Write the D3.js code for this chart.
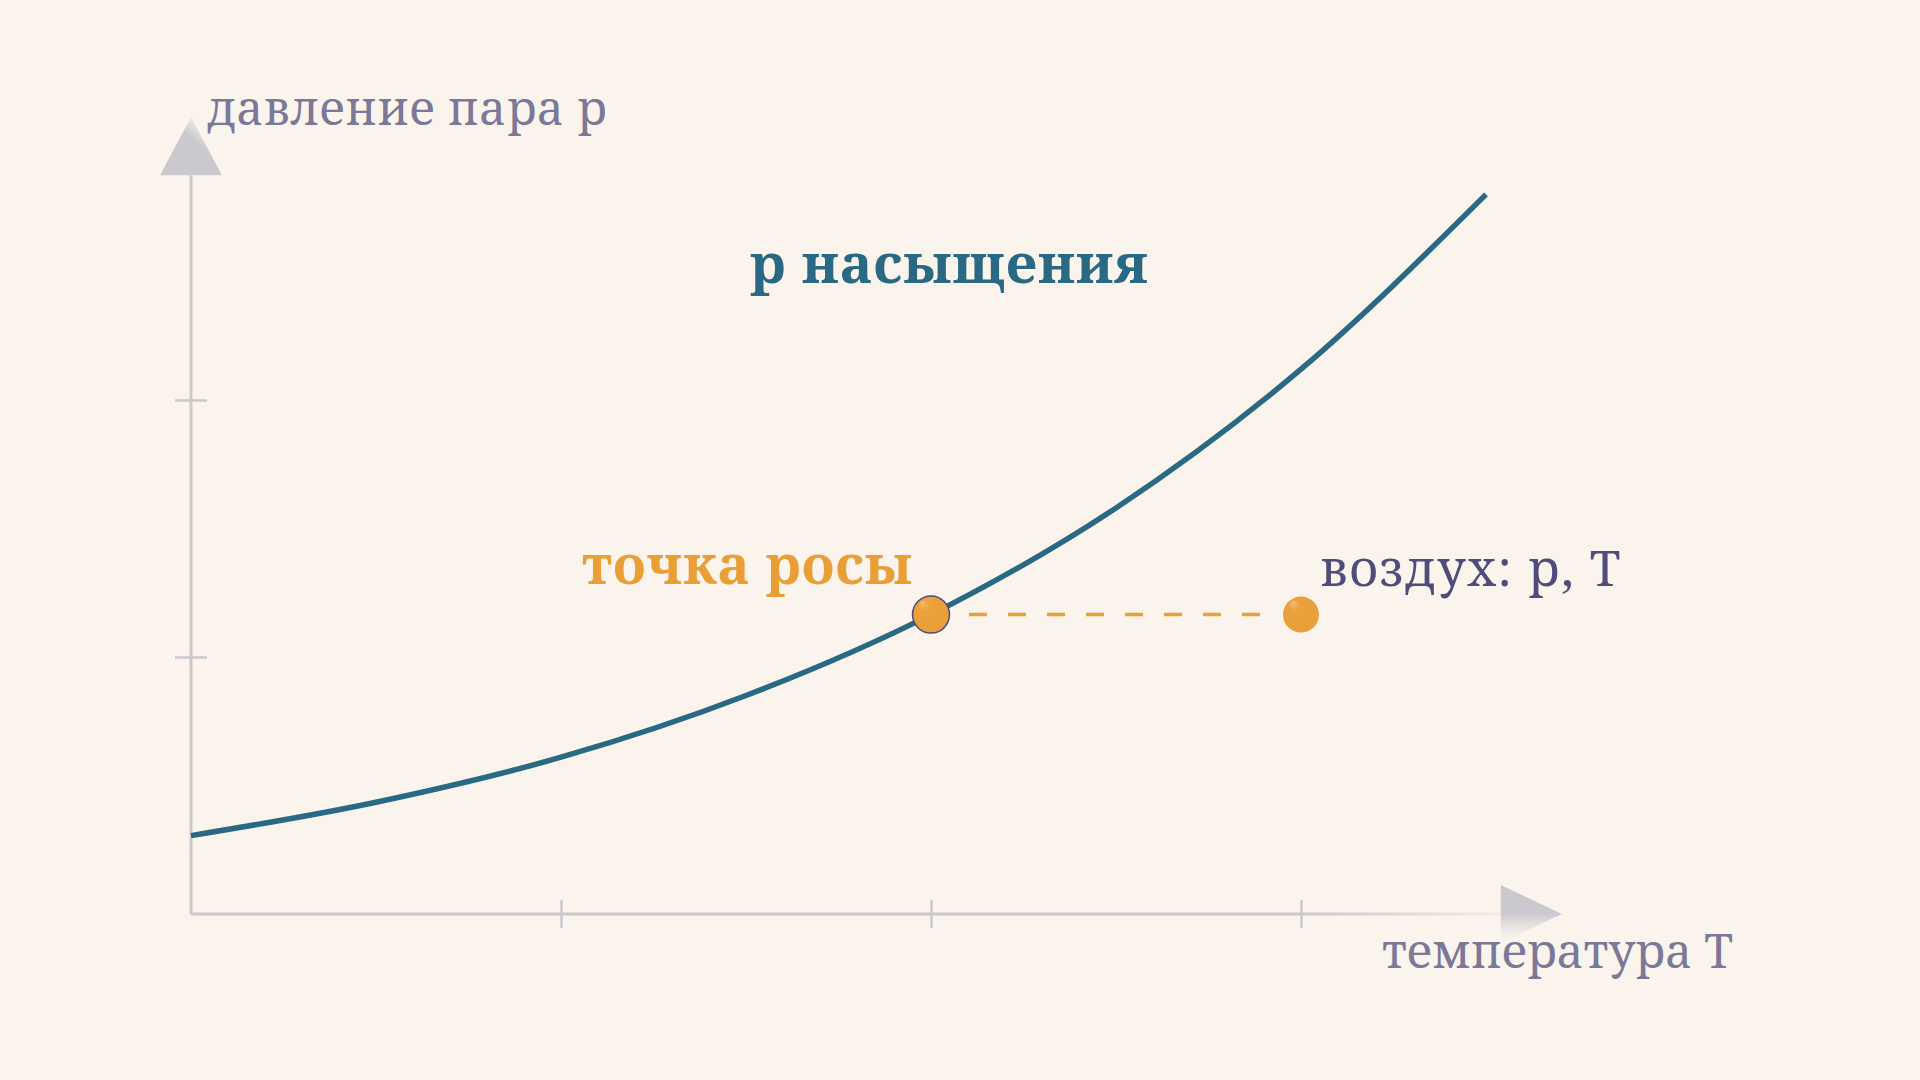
<!DOCTYPE html>
<html>
<head>
<meta charset="utf-8">
<script src="https://cdn.jsdelivr.net/npm/d3@7"></script>
<style>
  body { margin: 0; background: #faf4ed; }
  svg { display: block; }
</style>
</head>
<body>
<div id="chart"></div>
<script>
// saturation vapour pressure curve (°C, kPa)
var temps = [0, 5, 10, 15, 20, 25, 30, 35];
var pSat = [0.61, 0.87, 1.22, 1.70, 2.33, 3.16, 4.24, 5.60];
var xTicks = [10, 20, 30];
var yTicks = [2, 4];
var dewPoint = [20, 2.33];
var airPoint = [30, 2.33];
var labels = {
    yAxis: "давление пара р",
    xAxis: "температура T",
    curve: "р насыщения",
    dew: "точка росы",
    air: "воздух: р, T"
};

var width = 1920;
var height = 1080;
var fontFam = "'Noto Serif', 'DejaVu Serif', serif";

var svg = d3.select("#chart")
    .append("svg")
    .attr("width", width)
    .attr("height", height);

svg.append("rect").attr("width", width).attr("height", height).attr("fill", "#faf4ed");

const x = d3.scaleLinear().domain([0, 10]).range([191, 561]);
const y = d3.scaleLinear().domain([0, 2]).range([914, 657]);

var defs = svg.append("defs");

// fade for the end of the x axis
var gx = defs.append("linearGradient").attr("id", "xfade")
    .attr("gradientUnits", "userSpaceOnUse")
    .attr("x1", x(0)).attr("x2", x(35.4)).attr("y1", 0).attr("y2", 0);
gx.append("stop").attr("offset", "0.85").attr("stop-color", "#cbc9cc").attr("stop-opacity", 1);
gx.append("stop").attr("offset", "1").attr("stop-color", "#cbc9cc").attr("stop-opacity", 0.2);

var gxa = defs.append("linearGradient").attr("id", "xarrow")
    .attr("x1", 0).attr("x2", 0).attr("y1", 0).attr("y2", 1);
gxa.append("stop").attr("offset", "0.5").attr("stop-color", "#cbc9cf");
gxa.append("stop").attr("offset", "1").attr("stop-color", "#faf4ed").attr("stop-opacity", 0.3);

var gya = defs.append("linearGradient").attr("id", "yarrow")
    .attr("x1", 0.8).attr("x2", 0.3).attr("y1", 0).attr("y2", 0.6);
gya.append("stop").attr("offset", "0").attr("stop-color", "#ffffff");
gya.append("stop").attr("offset", "0.6").attr("stop-color", "#cbc9cd");

var gdot = defs.append("radialGradient").attr("id", "dotfill")
    .attr("cx", "0.5").attr("cy", "0.5").attr("r", "0.5")
    .attr("fx", "0.25").attr("fy", "0.15");
gdot.append("stop").attr("offset", "0").attr("stop-color", "#f1bd74");
gdot.append("stop").attr("offset", "0.3").attr("stop-color", "#eba23e");
gdot.append("stop").attr("offset", "1").attr("stop-color", "#ea9f37");

// X axis
var xAxis = svg.append("g")
    .attr("transform", `translate(0, ${y(0)})`)
    .call(d3.axisBottom(x).tickValues(xTicks).tickSize(16).tickFormat("").tickSizeOuter(0));
xAxis.select(".domain").remove();
xAxis.selectAll(".tick line").attr("y1", -14).attr("y2", 14)
    .attr("stroke", "#cbc9cc").attr("stroke-width", 2.5);
xAxis.append("line")
    .attr("x1", x(0)).attr("x2", x(35.4))
    .attr("stroke", "url(#xfade)").attr("stroke-width", 3);
xAxis.append("path")
    .attr("d", d3.line()([[x(35.4), -29], [x(37.05), 0], [x(35.4), 29]]))
    .attr("fill", "url(#xarrow)");

// Y axis
var yAxis = svg.append("g")
    .attr("transform", `translate(${x(0)}, 0)`)
    .call(d3.axisLeft(y).tickValues(yTicks).tickSize(16).tickFormat("").tickSizeOuter(0));
yAxis.select(".domain").remove();
yAxis.selectAll(".tick line").attr("x1", -16).attr("x2", 16)
    .attr("stroke", "#cbc9cc").attr("stroke-width", 2.5);
yAxis.append("line")
    .attr("y1", y(0)).attr("y2", y(5.75))
    .attr("stroke", "#cbc9cc").attr("stroke-width", 3);
yAxis.append("path")
    .attr("d", d3.line()([[-31, y(5.75)], [0, y(6.2)], [31, y(5.75)]]))
    .attr("fill", "url(#yarrow)");

// axis titles
svg.append("text")
    .attr("x", 207).attr("y", 125)
    .attr("font-family", fontFam).attr("font-size", 47)
    .attr("letter-spacing", 0.5)
    .attr("fill", "#7b7898")
    .text(labels.yAxis);

svg.append("text")
    .attr("x", 1733).attr("y", 968)
    .attr("text-anchor", "end")
    .attr("font-family", fontFam).attr("font-size", 47)
    .attr("fill", "#7b7898")
    .text(labels.xAxis);

// saturation curve
var curveData = temps.map((t, i) => [t, pSat[i]]);
svg.append("path")
    .datum(curveData)
    .attr("fill", "none")
    .attr("stroke", "#2a6983")
    .attr("stroke-width", 5.5)
    .attr("d", d3.line().x(d => x(d[0])).y(d => y(d[1])).curve(d3.curveMonotoneX));

svg.append("text")
    .attr("x", 750).attr("y", 283)
    .attr("font-family", fontFam).attr("font-size", 55)
    .attr("font-weight", "bold")
    .attr("letter-spacing", 1)
    .attr("fill", "#2a6983")
    .text(labels.curve);

// cooling path at constant p
svg.append("line")
    .attr("x1", x(dewPoint[0]) + 38).attr("x2", x(airPoint[0]) - 38)
    .attr("y1", y(dewPoint[1])).attr("y2", y(airPoint[1]))
    .attr("stroke", "#eaa038").attr("stroke-width", 3.5)
    .attr("stroke-dasharray", "18 21");

svg.append("circle")
    .attr("cx", x(airPoint[0])).attr("cy", y(airPoint[1]))
    .attr("r", 18)
    .attr("fill", "url(#dotfill)");

svg.append("circle")
    .attr("cx", x(dewPoint[0])).attr("cy", y(dewPoint[1]))
    .attr("r", 18.5)
    .attr("fill", "url(#dotfill)")
    .attr("stroke", "#4f4b7a").attr("stroke-width", 1.5);

svg.append("text")
    .attr("x", x(dewPoint[0]) - 18).attr("y", 584)
    .attr("text-anchor", "end")
    .attr("font-family", fontFam).attr("font-size", 54)
    .attr("font-weight", "bold")
    .attr("letter-spacing", 1)
    .attr("fill", "#e99e36")
    .text(labels.dew);

svg.append("text")
    .attr("x", x(airPoint[0]) + 19).attr("y", 586)
    .attr("font-family", fontFam).attr("font-size", 50)
    .attr("letter-spacing", 1.5)
    .attr("fill", "#4f4b7a")
    .text(labels.air);
</script>
</body>
</html>
